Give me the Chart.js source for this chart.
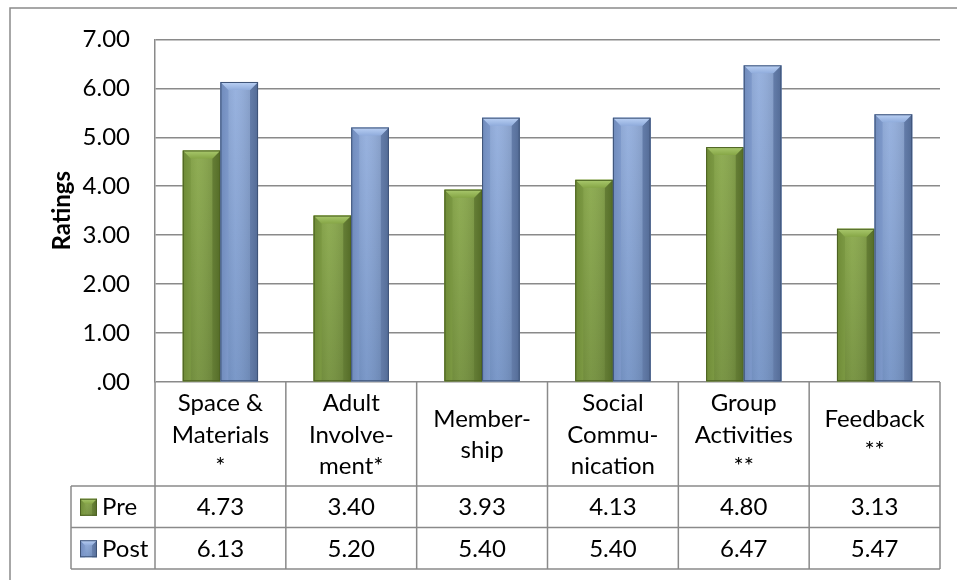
<!DOCTYPE html>
<html>
<head>
  <meta charset="utf-8">
  <script src="https://cdn.jsdelivr.net/npm/chart.js@4.4.0/dist/chart.umd.min.js"></script>
  <style>
    body {
      margin: 0;
      padding: 0;
      background: white;
    }
    #chartContainer {
      position: relative;
      width: 957px;
      height: 580px;
    }
  </style>
</head>
<body>
  <div id="chartContainer">
    <canvas id="chartCanvas"></canvas>
  </div>
  <script>
    // Categories (table header lines) and the two rating series
    const categories = [
      ['Space &', 'Materials', '*'],
      ['Adult', 'Involve-', 'ment*'],
      ['Member-', 'ship'],
      ['Social', 'Commu-', 'nication'],
      ['Group', 'Activities', '**'],
      ['Feedback', '**']
    ];
    const seriesNames = ['Pre', 'Post'];
    const preValues = [4.73, 3.40, 3.93, 4.13, 4.80, 3.13];
    const postValues = [6.13, 5.20, 5.40, 5.40, 6.47, 5.47];
    const yTickLabels = ['.00', '1.00', '2.00', '3.00', '4.00', '5.00', '6.00', '7.00'];
    const axisTitle = 'Ratings';

    const FONT = 'Lato, "Open Sans", sans-serif';
    const LINE = '#8a8a8a';

    // colours for the bevelled bars: main top/bottom, top bevel, side bevels, edge
    const barStyles = [
      { top: '#86a646', bottom: '#6f8d36', bevel: '#aac96e', left: '#7a9a3c', right: '#66832f', edge: '#4c6122' },
      { top: '#90acdc', bottom: '#7090c4', bevel: '#bcd2f5', left: '#7c9ad0', right: '#6582b6', edge: '#3e5377' }
    ];

    function drawBevelBox(ctx, left, top, right, bottom, st, b) {
      const g = ctx.createLinearGradient(0, top, 0, bottom);
      g.addColorStop(0, st.top);
      g.addColorStop(1, st.bottom);
      ctx.fillStyle = g;
      ctx.fillRect(left, top, right - left, bottom - top);

      // side bevels
      ctx.fillStyle = st.left;
      ctx.beginPath();
      ctx.moveTo(left, top); ctx.lineTo(left + b, top + b);
      ctx.lineTo(left + b, bottom); ctx.lineTo(left, bottom);
      ctx.closePath(); ctx.fill();
      ctx.fillStyle = st.right;
      ctx.beginPath();
      ctx.moveTo(right, top); ctx.lineTo(right - b, top + b);
      ctx.lineTo(right - b, bottom); ctx.lineTo(right, bottom);
      ctx.closePath(); ctx.fill();

      // soft shading across the face
      const h = ctx.createLinearGradient(left, 0, right, 0);
      h.addColorStop(0, 'rgba(0,0,0,0.10)');
      h.addColorStop(0.4, 'rgba(255,255,255,0.08)');
      h.addColorStop(1, 'rgba(0,0,0,0.18)');
      ctx.fillStyle = h;
      ctx.fillRect(left, top, right - left, bottom - top);

      // top bevel
      const tg = ctx.createLinearGradient(0, top, 0, top + b);
      tg.addColorStop(0, st.bevel);
      tg.addColorStop(1, st.top);
      ctx.fillStyle = tg;
      ctx.beginPath();
      ctx.moveTo(left, top); ctx.lineTo(right, top);
      ctx.lineTo(right - b, top + b); ctx.lineTo(left + b, top + b);
      ctx.closePath(); ctx.fill();

      // dark outer edge
      ctx.strokeStyle = st.edge;
      ctx.lineWidth = 1;
      ctx.strokeRect(left + 0.5, top + 0.5, right - left - 1, bottom - top - 1);
    }

    const bevelBars = {
      id: 'bevelBars',
      afterDatasetsDraw(chart) {
        const ctx = chart.ctx;
        ctx.save();
        chart.data.datasets.forEach((ds, di) => {
          const meta = chart.getDatasetMeta(di);
          meta.data.forEach(bar => {
            const left = bar.x - bar.width / 2;
            const right = bar.x + bar.width / 2;
            drawBevelBox(ctx, left, bar.y, right, bar.base, barStyles[di], 8);
          });
        });
        ctx.restore();
      }
    };

    // outer frame, axis title and the data table under the plot
    const dataTable = {
      id: 'dataTable',
      afterDraw(chart) {
        const ctx = chart.ctx;
        const area = chart.chartArea;
        const xs = chart.scales.x;
        const n = categories.length;
        const headTop = area.bottom;
        const headBottom = headTop + 104;
        const rowH = 41.5;
        const legendLeft = 71;

        ctx.save();
        ctx.strokeStyle = LINE;
        ctx.lineWidth = 1.5;

        // chart frame
        ctx.beginPath();
        ctx.moveTo(10, chart.height + 2); ctx.lineTo(10, 8); ctx.lineTo(chart.width + 2, 8);
        ctx.stroke();

        // table grid
        const colEdges = [];
        for (let i = 0; i <= n; i++) colEdges.push(xs.getPixelForValue(i - 0.5));
        const tableBottom = headBottom + rowH * seriesNames.length;
        ctx.beginPath();
        colEdges.forEach(x => { ctx.moveTo(x, headTop); ctx.lineTo(x, tableBottom); });
        ctx.moveTo(legendLeft, headBottom); ctx.lineTo(legendLeft, tableBottom);
        for (let r = 0; r <= seriesNames.length; r++) {
          const y = headBottom + rowH * r;
          ctx.moveTo(legendLeft, y); ctx.lineTo(area.right, y);
        }
        ctx.stroke();

        ctx.fillStyle = '#000';
        ctx.font = '24px ' + FONT;
        ctx.textAlign = 'center';
        ctx.textBaseline = 'middle';

        // header labels
        const lh = 31.5;
        categories.forEach((lines, i) => {
          const cx = xs.getPixelForValue(i);
          const cy = (headTop + headBottom) / 2 + 1;
          lines.forEach((t, k) => {
            ctx.fillText(t, cx, cy + (k - (lines.length - 1) / 2) * lh);
          });
        });

        // value rows with legend keys
        const rows = [preValues, postValues];
        rows.forEach((vals, r) => {
          const cy = headBottom + rowH * r + rowH / 2 + 1;
          ctx.textAlign = 'center';
          vals.forEach((v, i) => ctx.fillText(v.toFixed(2), xs.getPixelForValue(i), cy));
          drawBevelBox(ctx, 80, cy - 9, 97, cy + 8, barStyles[r], 5);
          ctx.fillStyle = '#000';
          ctx.textAlign = 'left';
          ctx.fillText(seriesNames[r], 102, cy);
        });

        // axis title
        ctx.font = 'bold 24px ' + FONT;
        ctx.textAlign = 'center';
        ctx.translate(62, (area.top + area.bottom) / 2);
        ctx.rotate(-Math.PI / 2);
        ctx.fillText(axisTitle, 0, 0);
        ctx.restore();
      }
    };

    function render() {
      const ctx = document.getElementById('chartCanvas').getContext('2d');
      new Chart(ctx, {
        type: 'bar',
        data: {
          labels: categories,
          datasets: [
            { label: seriesNames[0], data: preValues, backgroundColor: barStyles[0].top, borderWidth: 0 },
            { label: seriesNames[1], data: postValues, backgroundColor: barStyles[1].top, borderWidth: 0 }
          ]
        },
        options: {
          responsive: true,
          maintainAspectRatio: false,
          animation: false,
          categoryPercentage: 0.575,
          barPercentage: 1,
          layout: { padding: { top: 37, right: 17, left: 0, bottom: 0 } },
          plugins: {
            legend: { display: false },
            tooltip: { enabled: false }
          },
          scales: {
            x: {
              ticks: { display: false },
              grid: { display: false },
              border: { display: false },
              afterFit(scale) { scale.height = 198; }
            },
            y: {
              min: 0,
              max: 7,
              ticks: {
                stepSize: 1,
                padding: 25,
                color: '#000',
                font: { family: FONT, size: 24 },
                callback: (v, i) => yTickLabels[i]
              },
              grid: { color: LINE, lineWidth: 1.5, drawTicks: false },
              border: { color: LINE, width: 1.5 },
              afterFit(scale) { scale.width = 155; }
            }
          }
        },
        plugins: [bevelBars, dataTable]
      });
    }

    Promise.all([
      document.fonts.load('24px Lato'),
      document.fonts.load('bold 24px Lato')
    ]).then(render, render);
  </script>
</body>
</html>
